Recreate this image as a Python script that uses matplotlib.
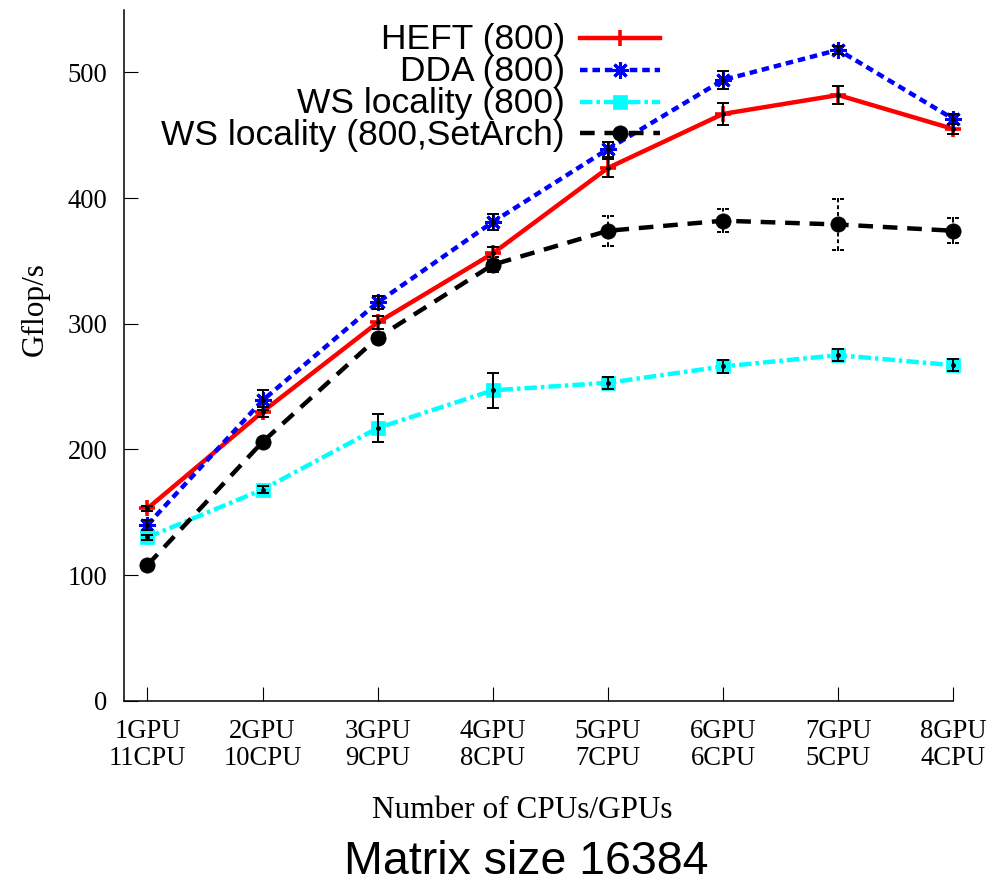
import numpy as np
import matplotlib.pyplot as plt
from matplotlib.path import Path

plt.rcParams['font.family'] = ['Liberation Serif', 'DejaVu Serif']

# data
x = np.arange(1, 9)
tick_labels = ["1GPU\n11CPU", "2GPU\n10CPU", "3GPU\n9CPU", "4GPU\n8CPU",
               "5GPU\n7CPU", "6GPU\n6CPU", "7GPU\n5CPU", "8GPU\n4CPU"]

heft = [153, 230, 301, 356, 424, 467, 482, 455]
heft_err = [2, 4, 5, 5, 7, 9, 7, 4]
dda = [140, 239, 317, 381, 439, 494, 518, 463]
dda_err = [4, 8, 5, 6, 6, 7, 3, 4]
ws = [130, 168, 217, 247, 253, 266, 275, 267]
ws_err = [2, 3, 11, 14, 5, 5, 5, 5]
setarch = [108, 206, 289, 347, 374, 382, 379, 374]
setarch_err = [1, 2, 2, 6, 12, 9, 20, 10]

labels = ["HEFT (800)", "DDA (800)", "WS locality (800)", "WS locality (800,SetArch)"]

W, H = 1007, 886
# axes box in pixels
AX_L, AX_R, AX_T, AX_B = 124, 953.3, 10, 700.7

fig = plt.figure(figsize=(W / 100, H / 100), dpi=100)
ax = fig.add_axes([AX_L / W, (H - AX_B) / H, (AX_R - AX_L) / W, (AX_B - AX_T) / H])
ax.set_xlim(0.796, 8)
ax.set_ylim(0, 549.7)

styles = [
    dict(color='red', ls='-', marker='+', ms=12, mew=2.6),
    dict(color='blue', ls=(0, (1.7, 1.1)), marker=(8, 2, 0), ms=12, mew=2.2),
    dict(color='cyan', ls=(0, (2.8, 0.9, 0.8, 0.9)), marker='s', ms=10, mew=0.5),
    dict(color='black', ls=(0, (3.3, 2.2)), marker='o', ms=11, mew=0.5),
]
series = [(heft, heft_err), (dda, dda_err), (ws, ws_err), (setarch, setarch_err)]

for (vals, errs), st in zip(series, styles):
    ax.plot(x, vals, color=st['color'], ls=st['ls'], lw=3.2, marker=st['marker'],
            ms=st['ms'], mew=st['mew'], mec=st['color'], clip_on=False, zorder=2)

# cap with gaps for the dashed error bars
gapcap = Path([(-1, 0), (-0.4, 0), (-0.12, 0), (0.12, 0), (0.4, 0), (1, 0)],
              [Path.MOVETO, Path.LINETO, Path.MOVETO, Path.LINETO, Path.MOVETO, Path.LINETO])

for i, (vals, errs) in enumerate(series):
    eb = ax.errorbar(x, vals, yerr=errs, fmt='o', ms=2.5, color='black', ecolor='black',
                     elinewidth=1.4, capsize=4.2, capthick=1.4, zorder=4, clip_on=False)
    if i == 3:
        eb[2][0].set_linestyle((0, (2, 1.5)))
        for cap in eb[1]:
            cap.set_marker(gapcap)

# axes styling
for s in ['top', 'right']:
    ax.spines[s].set_visible(False)
for s in ['left', 'bottom']:
    ax.spines[s].set_linewidth(1.1)
ax.set_xticks(x)
ax.set_xticklabels(tick_labels, linespacing=1.12)
ax.set_yticks([0, 100, 200, 300, 400, 500])
ax.tick_params(axis='both', direction='in', length=10, width=0.8, labelsize=19.2)
ax.tick_params(axis='y', pad=12)
ax.tick_params(axis='x', pad=13)

fig.text(35 / W, (H - 309) / H, "Gflop/s", rotation=90, ha='center', va='center', fontsize=22.5)
fig.text(522 / W, (H - 818.3) / H, "Number of CPUs/GPUs", ha='center', va='baseline', fontsize=22.5)
fig.text(526 / W, 2 / H, "Matrix size 16384", ha='center', va='bottom',
         fontsize=33.5, family='Liberation Sans')


# legend drawn by hand: text right aligned, sample on the right
def to_ax(px, py):
    return (px - AX_L) / (AX_R - AX_L), (AX_B - py) / (AX_B - AX_T)


rows = [38.3, 70, 101.7, 133.3]
for lab, st, ry in zip(labels, styles, rows):
    tx, ty = to_ax(565, ry + 11.2)
    ax.text(tx, ty, lab, ha='right', va='baseline', fontsize=25.5, family='Liberation Sans',
            transform=ax.transAxes, zorder=6)
    x0, y0 = to_ax(580, ry)
    x1, _ = to_ax(660, ry)
    xm, _ = to_ax(620, ry)
    ax.plot([x0, x1], [y0, y0], color=st['color'], ls=st['ls'], lw=3.2,
            transform=ax.transAxes, clip_on=False, zorder=6)
    ax.plot([xm], [y0], color=st['color'], marker=st['marker'], ms=st['ms'], mew=st['mew'],
            mec=st['color'], transform=ax.transAxes, clip_on=False, zorder=6)

plt.savefig("out.png", dpi=100)
